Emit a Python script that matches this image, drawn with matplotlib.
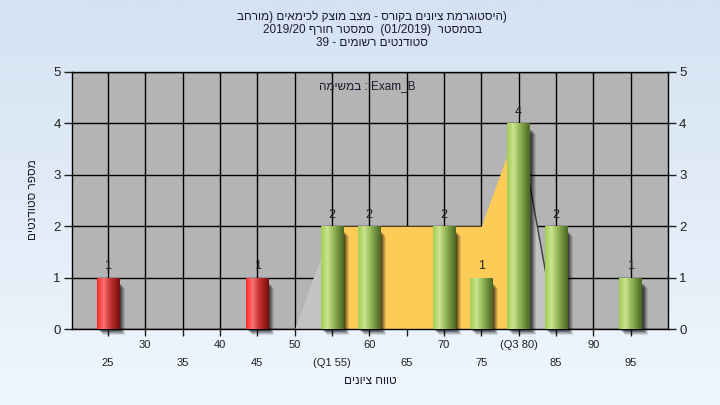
import numpy as np
import matplotlib
matplotlib.use('Agg')
import matplotlib.pyplot as plt
from matplotlib.patches import Rectangle
from matplotlib.colors import LinearSegmentedColormap
import matplotlib.transforms as mtransforms

plt.rcParams['font.family'] = ['Liberation Sans', 'DejaVu Sans']

# ---------------- data ----------------
grades = [25, 45, 55, 60, 70, 75, 80, 85, 95]
counts = [1, 1, 2, 2, 2, 1, 4, 2, 1]
fail_limit = 50

iqr_x = [55, 60, 65, 70, 75, 80]
iqr_y = [2, 2, 2, 2, 2, 4]
lower_tail_x = [50, 55]
lower_tail_y = [0, 2]
upper_tail_x = [80, 85]
upper_tail_y = [4, 0]

top_ticks = [30, 40, 50, 60, 70, 80, 90]
top_labels = ['30', '40', '50', '60', '70', '(Q3 80)', '90']
bottom_ticks = [25, 35, 45, 55, 65, 75, 85, 95]
bottom_labels = ['25', '35', '45', '(Q1 55)', '65', '75', '85', '95']
y_ticks = [0, 1, 2, 3, 4, 5]

# Hebrew strings in visual (left-to-right drawn) order
title_lines = [
    'בחרומ) םיאמיכל קצומ בצמ - סרוקב םינויצ תמרגוטסיה)',
    '2019/20 ףרוח רטסמס  (01/2019)  רטסמסב',
    '39 - םימושר םיטנדוטס',
]
task_label = 'המישמב : Exam_B'
x_label = 'םינויצ חווט'
y_label = 'םיטנדוטס רפסמ'

# ---------------- figure ----------------
fig = plt.figure(figsize=(7.2, 4.05), dpi=100)

bg = fig.add_axes([0, 0, 1, 1], zorder=-10)
top_c = np.array([213, 226, 242]) / 255
bot_c = np.array([239, 246, 253]) / 255
t = np.linspace(0, 1, 256)[:, None, None]
grad_bg = top_c * (1 - t) + bot_c * t
bg.imshow(np.repeat(grad_bg, 4, axis=1), aspect='auto', extent=[0, 1, 0, 1])
bg.axis('off')

ax = fig.add_axes([72 / 720, 1 - 329 / 405, 596 / 720, 257 / 405])
ax.set_facecolor('#b4b4b4')

# areas
ax.fill_between(iqr_x, iqr_y, 0, color='#ffcb57', lw=0, zorder=1)
ax.fill_between(lower_tail_x, lower_tail_y, 0, color='#c3c3c3', lw=0, zorder=1)
ax.fill_between(upper_tail_x, upper_tail_y, 0, color='#c3c3c3', lw=0, zorder=1)
ax.plot(upper_tail_x, upper_tail_y, color='#3c3c3c', lw=1, zorder=1.5)

# bars
green = LinearSegmentedColormap.from_list('g', [
    (0.0, (0.63, 0.80, 0.33)), (0.28, (0.80, 0.89, 0.56)),
    (0.55, (0.58, 0.72, 0.34)), (0.85, (0.38, 0.50, 0.20)),
    (1.0, (0.30, 0.40, 0.15))])
red = LinearSegmentedColormap.from_list('r', [
    (0.0, (1.0, 0.15, 0.15)), (0.28, (0.98, 0.45, 0.45)),
    (0.55, (0.80, 0.22, 0.22)), (0.85, (0.58, 0.10, 0.10)),
    (1.0, (0.45, 0.06, 0.06))])

bars = ax.bar(grades, counts, width=3, color='none', edgecolor='none', zorder=4)
grad = np.linspace(0, 1, 128).reshape(1, -1)
for g, c, p in zip(grades, counts, bars.patches):
    x0, w, h = p.get_x(), p.get_width(), p.get_height()
    # shadow
    for k, (dx, dy, a) in enumerate([(2, -2, 0.25), (3, -3, 0.22), (4, -4, 0.18),
                                       (5, -5, 0.14), (6, -6, 0.10)]):
        tr = ax.transData + mtransforms.ScaledTranslation(dx / 100, dy / 100 + 0.0,
                                                           fig.dpi_scale_trans)
        sh = Rectangle((x0, 0), w, h - 0.08, transform=tr, facecolor='black',
                       edgecolor='none', alpha=a, zorder=2.5, clip_on=False)
        ax.add_patch(sh)
    cmap = red if g < fail_limit else green
    im = ax.imshow(grad, cmap=cmap, extent=[x0, x0 + w, 0, h], aspect='auto',
                   interpolation='bilinear', zorder=3)
    im.set_clip_path(p)
    ax.annotate(str(c), (g, c), xytext=(0, 4), textcoords='offset points',
                ha='center', va='bottom', fontsize=9, color='#202020', zorder=5)

ax.set_xlim(20.2, 100)
ax.set_ylim(0, 5)

ax.set_xticks(top_ticks)
ax.set_xticklabels(top_labels)
ax.set_xticks(bottom_ticks, minor=True)
ax.set_xticklabels(bottom_labels, minor=True)
ax.set_yticks(y_ticks)

ax.set_axisbelow(True)
ax.grid(True, which='both', axis='x', color='black', lw=1)
ax.grid(True, which='major', axis='y', color='black', lw=1)

ax.tick_params(axis='x', which='major', direction='out', length=5, width=1,
               pad=3, labelsize=8, colors='#202020')
ax.tick_params(axis='x', which='minor', direction='out', length=5, width=1,
               pad=16, labelsize=8, colors='#202020')
ax.tick_params(axis='y', which='major', direction='out', length=6, width=1,
               pad=2, labelsize=9.5, colors='#202020', right=True, labelright=True)
for s in ax.spines.values():
    s.set_color('black')
    s.set_linewidth(1)

ax.text(0.495, 0.945, task_label, transform=ax.transAxes, ha='center',
        va='center', fontsize=8.5, color='#1a1a2e')

for i, line in enumerate(title_lines):
    fig.text(372 / 720, 1 - (17 + 13 * i) / 405, line, ha='center', va='center',
             fontsize=8.5, color='#1a1a2e')

fig.text(370 / 720, 1 - 381 / 405, x_label, ha='center', va='center',
         fontsize=8.5, color='#1a1a2e')
fig.text(33 / 720, 1 - 200 / 405, y_label, ha='center', va='center',
         rotation=90, fontsize=8.5, color='#1a1a2e')

fig.savefig('out.png', dpi=100)
